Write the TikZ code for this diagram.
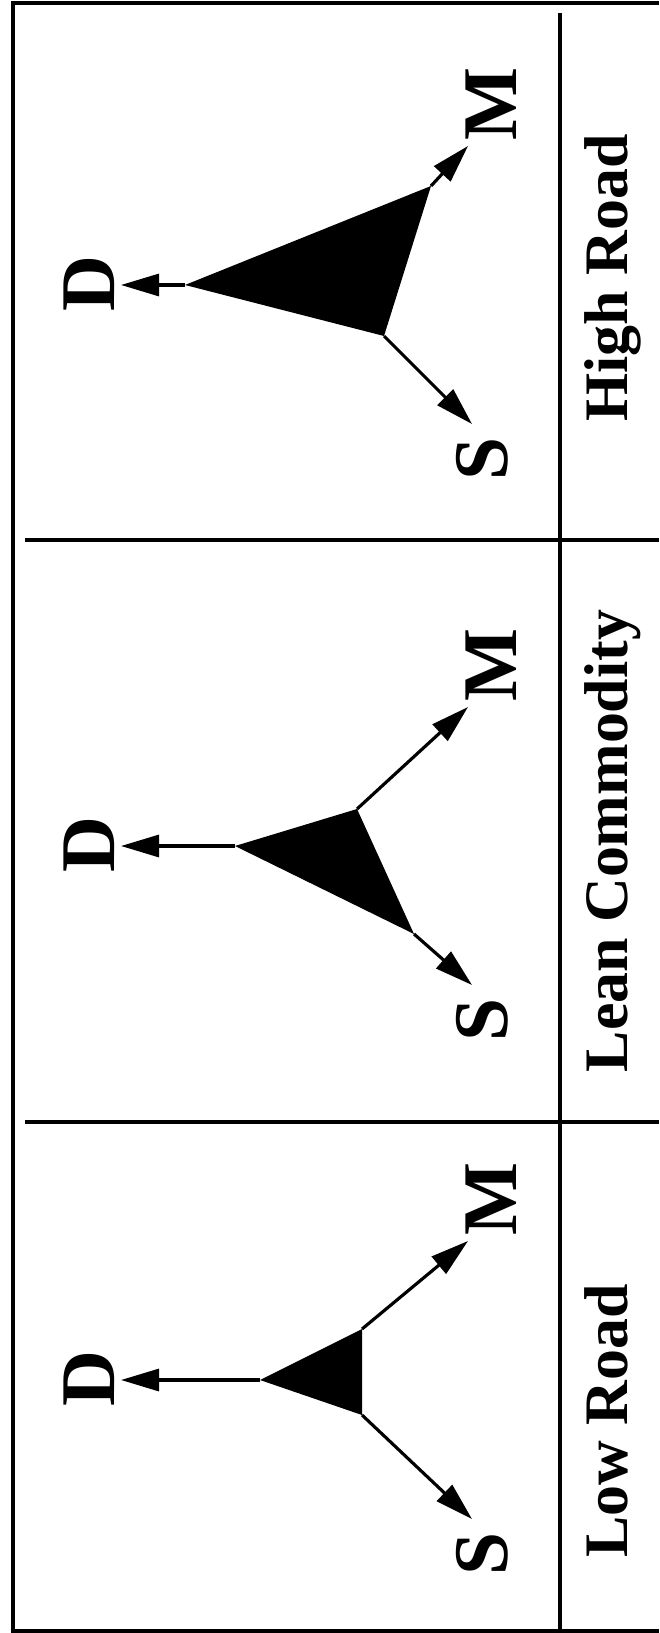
\documentclass[tikz,border=0pt]{standalone}
\usepackage{fontspec}
\setmainfont{Liberation Serif}
\usetikzlibrary{arrows.meta}

\begin{document}
\begin{tikzpicture}[x=0.1mm, y=-0.1mm, line width=0.9pt,
  flecha/.style={-{Triangle[length=3.8mm,width=2.2mm]}},
  letra/.style={rotate=90, anchor=base, inner sep=0pt, font=\bfseries\fontsize{22}{22}\selectfont},
  titulo/.style={rotate=90, anchor=base, inner sep=0pt, font=\bfseries\fontsize{17.6}{18}\selectfont}]
  \useasboundingbox (0,0) rectangle (659,1633);

  % Marco
  \draw (659,3) -- (13,3) -- (13,1631) -- (659,1631);
  \draw (25,540) -- (659,540);
  \draw (25,1122) -- (659,1122);
  \draw (560,13) -- (560,1631);

  % Estrategias
  \foreach \c/\dx/\mx/\my/\sx/\sy/\t/\nom [count=\i] in
    {285/185/431/99/384/51/-7/High Road,
     846/235/357/37/414/88/-5/Lean Commodity,
     1380/260/362/51/362/35/41/Low Road} {
    \coordinate (vD\i) at (\dx,\c);
    \coordinate (vM\i) at (\mx,\c-\my);
    \coordinate (vS\i) at (\sx,\c+\sy);
    \coordinate (pD\i) at (121,\c);
    \coordinate (pM\i) at (468,\c-139);
    \coordinate (pS\i) at (472,\c+139);
    \fill (vD\i) -- (vM\i) -- (vS\i) -- cycle;
    \draw[flecha] (vD\i) -- (pD\i);
    \draw[flecha] (vM\i) -- (pM\i);
    \draw[flecha] (vS\i) -- (pS\i);
    \node[letra] (D\i) at (114,\c-1) {D};
    \node[letra] (M\i) at (516,\c-181) {M};
    \node[letra] (S\i) at (507,\c+174) {S};
    \node[titulo] (tit\i) at (627,\c+\t) {\nom};
  }
\end{tikzpicture}
\end{document}
